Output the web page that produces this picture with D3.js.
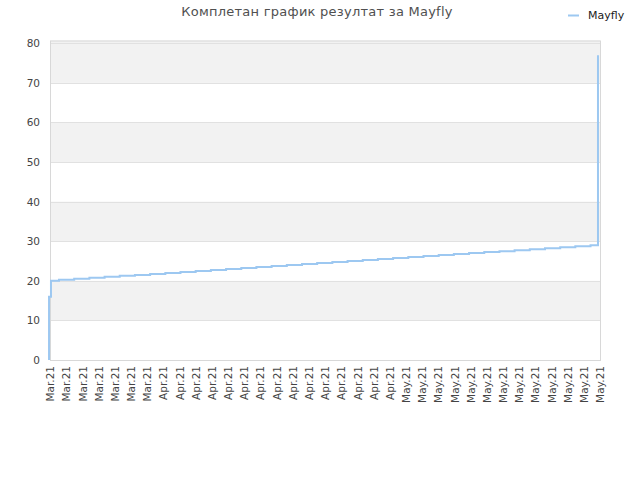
<!DOCTYPE html>
<html>
<head>
<meta charset="utf-8">
<script src="https://cdn.jsdelivr.net/npm/d3@7"></script>
<style>
	body { margin: 0; background: #fff; }
	svg { font-family: "DejaVu Sans", sans-serif; }
</style>
</head>
<body>
<div class="horizon"></div>
<script>
/*
----------------------------------------------------------
                   the data
----------------------------------------------------------
*/
var title = "Комплетан график резултат за Mayfly";
var seriesName = "Mayfly";

// one label every two days, starting 18 Mar 2021
var tickLabels = [
	"Mar.21", "Mar.21", "Mar.21", "Mar.21", "Mar.21", "Mar.21", "Mar.21",
	"Apr.21", "Apr.21", "Apr.21", "Apr.21", "Apr.21", "Apr.21", "Apr.21", "Apr.21",
	"Apr.21", "Apr.21", "Apr.21", "Apr.21", "Apr.21", "Apr.21", "Apr.21",
	"May.21", "May.21", "May.21", "May.21", "May.21", "May.21", "May.21",
	"May.21", "May.21", "May.21", "May.21", "May.21", "May.21"
];

// day offsets of each result (from 18 Mar) and the result values
var days = [
	-0.12, -0.12, 0.12,
	1.11, 2.99, 4.87, 6.75, 8.62, 10.50, 12.38, 14.26, 16.13, 18.01,
	19.89, 21.77, 23.65, 25.52, 27.40, 29.28, 31.16, 33.03, 34.91, 36.79,
	38.67, 40.54, 42.42, 44.30, 46.18, 48.06, 49.93, 51.81, 53.69, 55.57,
	57.44, 59.32, 61.20, 63.08, 64.95, 66.83,
	67.75
];
var values = [
	0, 16, 20,
	20.25, 20.5, 20.75, 21, 21.25, 21.5, 21.75, 22, 22.25, 22.5,
	22.75, 23, 23.25, 23.5, 23.75, 24, 24.25, 24.5, 24.75, 25,
	25.25, 25.5, 25.75, 26, 26.25, 26.5, 26.75, 27, 27.25, 27.5,
	27.75, 28, 28.25, 28.5, 28.75, 29,
	77
];

var yTicks = [0, 10, 20, 30, 40, 50, 60, 70, 80];

/*
----------------------------------------------------------
                   the chart
----------------------------------------------------------
*/
var width = 640;
var height = 480;
var margin = { left: 50, right: 40, top: 40.5, bottom: 120 };
var lineColor = "#9dc8f1";

var svg = d3.select(".horizon")
	.append("svg")
		.attr("width", width)
		.attr("height", height);

var x = d3.scaleLinear()
	.domain([0, (tickLabels.length - 1) * 2])
	.range([margin.left, width - margin.right]);

var y = d3.scaleLinear()
	.domain([0, 80.7])
	.range([height - margin.bottom, margin.top]);

// alternating bands
var bands = d3.range(0, yTicks.length - 1).filter(function(i) { return i % 2 == 1; });
svg.append("g").attr("class", "bands")
	.selectAll("rect").data(bands).enter()
	.append("rect")
		.attr("x", x.range()[0])
		.attr("width", x.range()[1] - x.range()[0])
		.attr("y", function(i) { return y(yTicks[i + 1]); })
		.attr("height", function(i) { return y(yTicks[i]) - y(yTicks[i + 1]); })
		.attr("fill", "#f2f2f2");

// top strip above 80
svg.append("rect")
	.attr("x", x.range()[0])
	.attr("width", x.range()[1] - x.range()[0])
	.attr("y", y.range()[1])
	.attr("height", y(80) - y.range()[1])
	.attr("fill", "#f2f2f2");

// grid
svg.append("g").attr("class", "grid")
	.selectAll("line").data(yTicks).enter()
	.append("line")
		.attr("x1", x.range()[0])
		.attr("x2", x.range()[1])
		.attr("y1", function(d) { return Math.round(y(d)) + 0.5; })
		.attr("y2", function(d) { return Math.round(y(d)) + 0.5; })
		.attr("stroke", "#e1e1e1");

// frame
svg.append("rect")
	.attr("x", x.range()[0] + 0.5)
	.attr("y", y.range()[1] + 0.5)
	.attr("width", x.range()[1] - x.range()[0])
	.attr("height", y.range()[0] - y.range()[1])
	.attr("fill", "none")
	.attr("stroke", "#d8d8d8");

// y axis
var yAxis = svg.append("g")
	.attr("transform", "translate(" + (margin.left - 8) + ",0)")
	.call(d3.axisLeft(y).tickValues(yTicks).tickSize(0).tickPadding(2));
yAxis.select(".domain").remove();
yAxis.selectAll("text")
	.attr("font-size", 10.5)
	.attr("font-family", "DejaVu Sans")
	.attr("fill", "#444");

// x axis
var xAxis = svg.append("g")
	.attr("transform", "translate(0," + (height - margin.bottom) + ")")
	.call(d3.axisBottom(x)
		.tickValues(d3.range(0, tickLabels.length * 2, 2))
		.tickFormat(function(d) { return tickLabels[d / 2]; })
		.tickSize(0));
xAxis.select(".domain").remove();
xAxis.selectAll("text")
	.attr("font-size", 10.5)
	.attr("font-family", "DejaVu Sans")
	.attr("fill", "#444")
	.attr("text-anchor", "end")
	.attr("dy", "0.35em")
	.attr("transform", "translate(0,6) rotate(-90)")
	.attr("x", 0)
	.attr("y", 0);

// series
var points = days.map(function(d, i) { return { day: d, value: values[i] }; });
var line = d3.line()
	.x(function(d) { return x(d.day); })
	.y(function(d) { return y(d.value); })
	.curve(d3.curveStepAfter);

svg.append("path")
	.datum(points)
	.attr("d", line)
	.attr("fill", "none")
	.attr("stroke", lineColor)
	.attr("stroke-width", 2);

// title
svg.append("text")
	.attr("x", 317)
	.attr("y", 16)
	.attr("text-anchor", "middle")
	.attr("font-size", 13)
	.attr("letter-spacing", 0.25)
	.attr("fill", "#505050")
	.text(title);

// legend
svg.append("line")
	.attr("x1", 568).attr("x2", 579)
	.attr("y1", 15.5).attr("y2", 15.5)
	.attr("stroke", lineColor)
	.attr("stroke-width", 2);
svg.append("text")
	.attr("x", 588)
	.attr("y", 18.5)
	.attr("font-size", 11)
	.attr("fill", "#222")
	.text(seriesName);
</script>
</body>
</html>
